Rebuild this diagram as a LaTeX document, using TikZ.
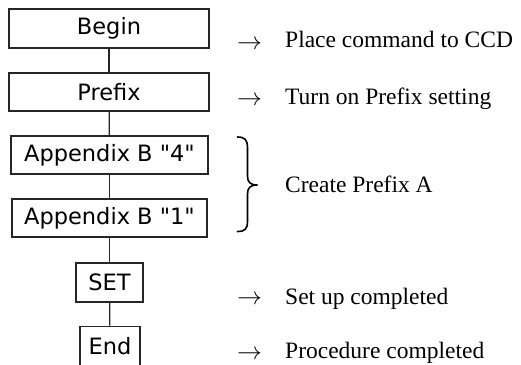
\documentclass[tikz,border=0pt]{standalone}
\usepackage{fontspec}
\setmainfont{Liberation Serif}
\newfontfamily\boxfont{DejaVu Sans}
\begin{document}
\begin{tikzpicture}[x=1pt,y=-1pt,
  stepbox/.style={draw=black!85, line width=1.6pt, inner sep=0pt, font=\boxfont\fontsize{22.5}{22.5}\selectfont},
  note/.style={anchor=base west, inner sep=0pt, font=\fontsize{23.5}{24}\selectfont},
  arr/.style={anchor=base west, inner sep=0pt, font=\fontsize{24}{24}\selectfont},
  link/.style={line width=1.3pt, black!85}]
\useasboundingbox (0,0) rectangle (521,364);
\node[stepbox, minimum width=200pt, minimum height=39pt] (begin) at (109,28.5) {Begin};
\node[stepbox, minimum width=200pt, minimum height=38pt] (prefix) at (109,92) {Prefix};
\node[stepbox, minimum width=197pt, minimum height=38pt] (app4) at (109.5,155) {Appendix B "4"};
\node[stepbox, minimum width=195pt, minimum height=38pt] (app1) at (109.5,218) {Appendix B "1"};
\node[stepbox, minimum width=67pt, minimum height=39pt] (set) at (109.5,282.5) {SET};
\node[stepbox, minimum width=60pt, minimum height=40pt] (end) at (110,346.5) {End};
\draw[link] (begin) -- (prefix);
\draw[link] (prefix) -- (app4);
\draw[link] (app4) -- (app1);
\draw[link] (app1) -- (set);
\draw[link] (set) -- (end);
% notes
\node[arr] (a1) at (237,49) {$\rightarrow$};
\node[note] (t1) at (285,47) {Place command to CCD};
\node[arr] (a2) at (237,105) {$\rightarrow$};
\node[note] (t2) at (285,104) {Turn on Prefix setting};
\node[note] (t3) at (285,192) {Create Prefix A};
\node[arr] (a4) at (237,304) {$\rightarrow$};
\node[note] (t4) at (285,304) {Set up completed};
\node[arr] (a5) at (237,359) {$\rightarrow$};
\node[note] (t5) at (285,358) {Procedure completed};
% brace
\coordinate (bt) at (237.5,137);
\coordinate (bm) at (257.5,185);
\coordinate (bb) at (237.5,231.5);
\draw[line width=1.6pt, line cap=round] (bt) .. controls (245,137) and (247.5,140) .. (247.5,148)
  -- (247.5,176) .. controls (247.5,182) and (250,185) .. (bm)
  .. controls (250,185) and (247.5,188) .. (247.5,194)
  -- (247.5,221) .. controls (247.5,229) and (245,231.5) .. (bb);
\end{tikzpicture}
\end{document}
